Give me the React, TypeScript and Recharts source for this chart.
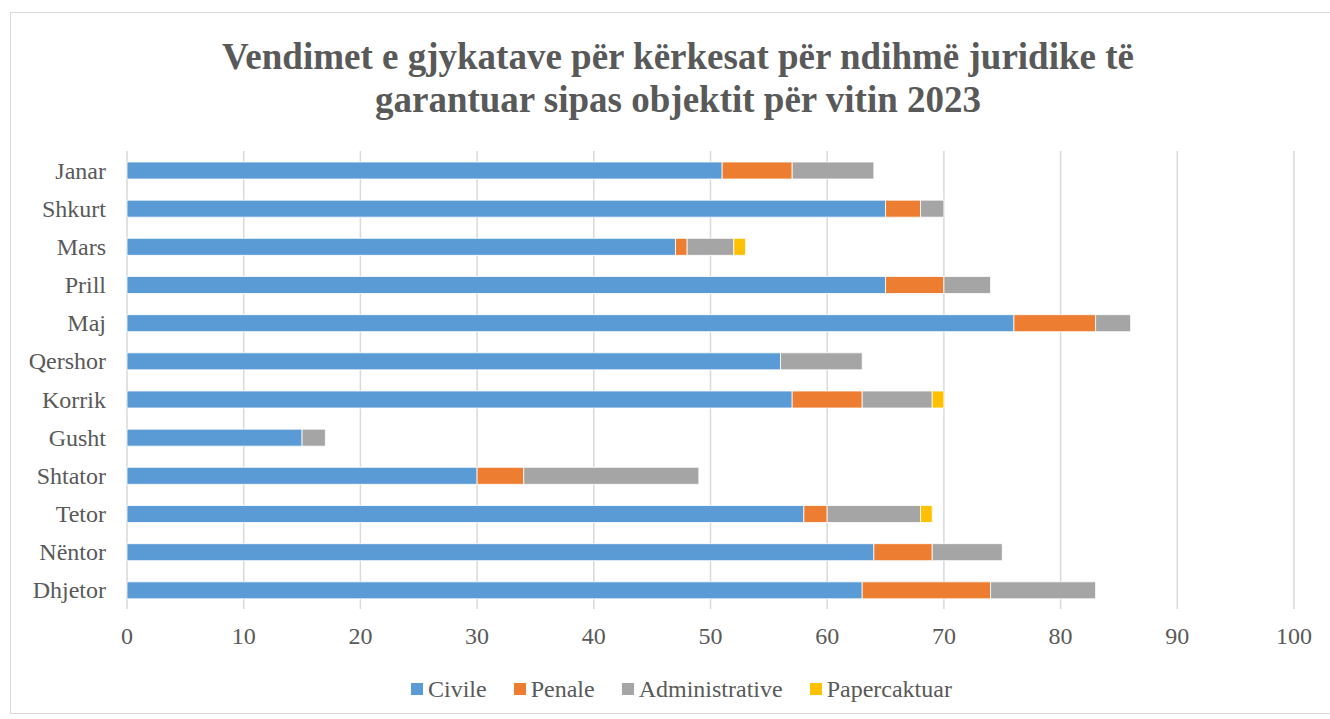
import { Bar, BarChart, CartesianGrid, XAxis, YAxis } from "recharts";

const months = ["Janar", "Shkurt", "Mars ", "Prill", "Maj", "Qershor", "Korrik", "Gusht", "Shtator", "Tetor", "Nëntor", "Dhjetor"];
const civile = [51, 65, 47, 65, 76, 56, 57, 15, 30, 58, 64, 63];
const penale = [6, 3, 1, 5, 7, 0, 6, 0, 4, 2, 5, 11];
const administrative = [7, 2, 4, 4, 3, 7, 6, 2, 15, 8, 6, 9];
const papercaktuar = [0, 0, 1, 0, 0, 0, 1, 0, 0, 1, 0, 0];
const xTicks = [0, 10, 20, 30, 40, 50, 60, 70, 80, 90, 100];

const series = [
    { key: "civile", name: "Civile", color: "#5B9BD5" },
    { key: "penale", name: "Penale", color: "#ED7D31" },
    { key: "administrative", name: "Administrative", color: "#A5A5A5" },
    { key: "papercaktuar", name: "Papercaktuar", color: "#FFC000" },
];

const data = months.map((month, i) => ({
    month,
    civile: civile[i],
    penale: penale[i],
    administrative: administrative[i],
    papercaktuar: papercaktuar[i],
}));

const font = "'Liberation Serif', 'Times New Roman', serif";
const textColor = "#595959";

const App = () => {
    return (
        <div style={{ position: "absolute", left: 0, top: 0, width: 1330, height: 719, background: "#fff" }}>
            <div
                style={{
                    position: "absolute",
                    left: 10,
                    top: 12,
                    width: 1330,
                    height: 702,
                    border: "1px solid #d9d9d9",
                    boxSizing: "border-box",
                }}
            />
            <div
                style={{
                    position: "absolute",
                    left: 8,
                    top: 35,
                    width: 1340,
                    textAlign: "center",
                    fontFamily: font,
                    fontWeight: "bold",
                    fontSize: 37,
                    lineHeight: "43px",
                    color: textColor,
                }}
            >
                Vendimet e gjykatave për kërkesat për ndihmë juridike të
                <br />
                garantuar sipas objektit për vitin 2023
            </div>
            <div style={{ position: "absolute", left: 0, top: 0 }}>
                <BarChart
                    width={1330}
                    height={719}
                    data={data}
                    layout="vertical"
                    margin={{ top: 151, right: 36, bottom: 80, left: 10 }}
                >
                    <CartesianGrid horizontal={false} stroke="#d9d9d9" strokeWidth={1.5} />
                    <XAxis
                        type="number"
                        domain={[0, 100]}
                        ticks={xTicks}
                        axisLine={false}
                        tickLine={false}
                        tickSize={0}
                        tickMargin={18}
                        height={30}
                        tick={{ fontFamily: font, fontSize: 24, fill: textColor }}
                    />
                    <YAxis
                        type="category"
                        dataKey="month"
                        width={117}
                        axisLine={false}
                        tickLine={false}
                        tickSize={0}
                        tickMargin={21}
                        interval={0}
                        tick={{ fontFamily: font, fontSize: 24, fill: textColor }}
                    />
                    {series.map((s) => (
                        <Bar
                            key={s.key}
                            dataKey={s.key}
                            name={s.name}
                            stackId="a"
                            barSize={17}
                            fill={s.color}
                            stroke="#ffffff"
                            strokeWidth={0.8}
                            isAnimationActive={false}
                        />
                    ))}
                </BarChart>
            </div>
            <div
                style={{
                    position: "absolute",
                    left: 411,
                    top: 674,
                    display: "flex",
                    gap: 27,
                    fontFamily: font,
                    fontSize: 24,
                    lineHeight: "30px",
                    color: textColor,
                }}
            >
                {series.map((s) => (
                    <div key={s.key} style={{ display: "flex", alignItems: "center" }}>
                        <span style={{ width: 12, height: 12, background: s.color, marginRight: 5, display: "inline-block" }} />
                        {s.name}
                    </div>
                ))}
            </div>
        </div>
    );
};

export default App;
